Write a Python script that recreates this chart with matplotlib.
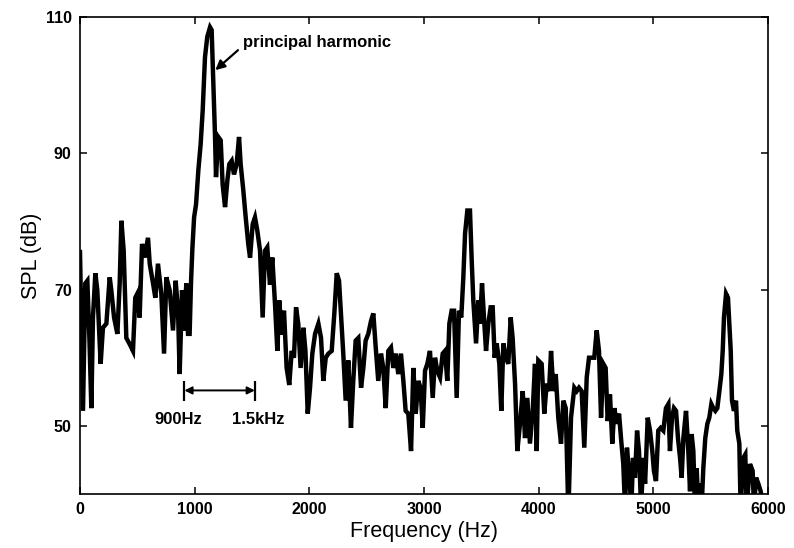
"""Sound pressure level spectrum with the principal harmonic and its band marked.

Renders a single black trace on a white boxed axes and saves it as out.png.
"""
import matplotlib
matplotlib.use("Agg")
import matplotlib.pyplot as plt

plt.rcParams["font.family"] = ["Liberation Sans", "DejaVu Sans"]

# spectrum samples: frequency (Hz) and level (dB)
freq_hz = [
    0, 26, 46, 64, 82, 99, 113, 134, 151, 180, 200, 230, 259, 273, 297, 326,
    346, 361, 381, 404, 433, 462, 482, 500, 520, 541, 564, 593, 608, 637, 657,
    680, 709, 733, 753, 782, 811, 834, 855, 869, 890, 907, 927, 942, 956, 968,
    980, 995, 1012, 1032, 1052, 1070, 1090, 1110, 1134, 1148, 1163, 1177, 1186,
    1206, 1227, 1244, 1265, 1285, 1302, 1323, 1343, 1366, 1387, 1401, 1424,
    1445, 1468, 1483, 1506, 1526, 1546, 1570, 1593, 1613, 1633, 1657, 1677,
    1701, 1721, 1738, 1759, 1779, 1802, 1825, 1846, 1866, 1884, 1904, 1924,
    1948, 1966, 1986, 2006, 2026, 2050, 2079, 2102, 2122, 2143, 2166, 2195,
    2218, 2239, 2259, 2276, 2296, 2317, 2340, 2363, 2383, 2404, 2427, 2451,
    2471, 2491, 2514, 2538, 2558, 2579, 2601, 2625, 2645, 2666, 2689, 2712,
    2732, 2753, 2776, 2799, 2820, 2840, 2863, 2887, 2907, 2928, 2950, 2970,
    2989, 3009, 3029, 3052, 3076, 3096, 3116, 3140, 3163, 3183, 3203, 3221,
    3241, 3262, 3285, 3305, 3325, 3343, 3358, 3378, 3401, 3416, 3430, 3454,
    3474, 3488, 3506, 3523, 3541, 3561, 3581, 3599, 3616, 3634, 3657, 3674,
    3692, 3715, 3735, 3756, 3773, 3794, 3814, 3837, 3861, 3881, 3901, 3924,
    3948, 3968, 3983, 3997, 4026, 4049, 4070, 4090, 4108, 4128, 4149, 4171,
    4195, 4215, 4236, 4259, 4282, 4311, 4332, 4352, 4375, 4398, 4419, 4439,
    4462, 4485, 4506, 4526, 4544, 4564, 4584, 4602, 4622, 4642, 4660, 4681,
    4701, 4718, 4738, 4753, 4770, 4788, 4808, 4823, 4840, 4858, 4875, 4893,
    4913, 4928, 4951, 4971, 4991, 5005, 5023, 5043, 5064, 5087, 5110, 5131,
    5145, 5163, 5180, 5198, 5215, 5233, 5247, 5262, 5285, 5305, 5320, 5334,
    5349, 5363, 5378, 5392, 5407, 5421, 5436, 5453, 5471, 5488, 5506, 5523,
    5541, 5558, 5576, 5593, 5605, 5616, 5634, 5651, 5663, 5675, 5686, 5703,
    5721, 5732, 5750, 5761, 5785, 5802, 5814, 5843, 5866, 5878, 5896, 5916,
    5936, 5959, 5990,
]
spl_db = [
    75.5, 52.2, 70.9, 71.3, 62.9, 52.6, 65.9, 72.4, 69.9, 59.1, 64.4, 65.0,
    71.8, 69.9, 65.9, 63.5, 70.9, 80.1, 75.7, 62.9, 62.0, 61.0, 68.8, 69.4,
    65.9, 76.7, 74.7, 77.6, 73.8, 70.9, 68.8, 73.8, 69.4, 60.6, 71.8, 69.9,
    64.0, 71.3, 66.9, 57.6, 69.9, 64.0, 70.9, 63.5, 63.5, 71.0, 76.0, 80.6,
    82.5, 87.5, 91.3, 96.3, 104.1, 107.1, 108.5, 108.1, 100.1, 92.8, 86.5,
    92.4, 91.9, 85.4, 82.1, 86.0, 88.4, 88.9, 86.9, 88.4, 92.4, 88.4, 84.6,
    80.6, 76.6, 74.7, 79.6, 80.6, 78.7, 75.7, 65.9, 75.7, 76.2, 70.7, 74.7,
    67.8, 61.0, 68.4, 63.4, 66.9, 58.5, 56.0, 61.0, 60.0, 67.4, 64.9, 58.5,
    64.4, 61.0, 51.8, 55.6, 60.6, 63.5, 65.0, 62.9, 56.6, 60.0, 60.6, 61.0,
    66.5, 72.4, 71.3, 66.5, 60.6, 53.7, 59.6, 49.7, 56.6, 62.5, 62.9, 55.6,
    58.5, 62.5, 63.5, 65.4, 66.5, 61.5, 56.6, 60.6, 58.5, 52.6, 61.0, 61.5,
    58.5, 60.6, 57.6, 60.6, 56.6, 52.2, 51.8, 46.3, 58.5, 51.8, 56.6, 55.6,
    49.7, 58.1, 59.1, 61.0, 54.1, 60.0, 58.1, 57.1, 60.6, 61.0, 56.6, 65.0,
    66.9, 66.9, 54.1, 66.9, 65.9, 71.8, 78.2, 81.6, 81.6, 74.3, 68.4, 62.1,
    68.4, 65.0, 70.9, 65.9, 61.0, 65.0, 67.4, 67.4, 60.0, 62.1, 59.1, 52.2,
    62.1, 60.0, 59.1, 65.9, 62.9, 56.2, 46.3, 50.3, 55.1, 48.2, 54.1, 47.4,
    52.2, 59.1, 46.3, 59.6, 59.1, 51.8, 56.2, 55.1, 61.0, 55.1, 57.6, 51.2,
    47.4, 53.7, 52.6, 37.0, 51.2, 55.6, 55.1, 55.6, 55.1, 46.8, 57.1, 60.0,
    60.0, 60.0, 64.0, 61.0, 51.2, 59.1, 58.5, 50.7, 54.6, 47.4, 52.6, 50.3,
    51.8, 48.2, 44.4, 38.0, 46.8, 43.4, 38.0, 45.3, 42.4, 49.3, 46.3, 38.0,
    45.3, 41.5, 51.2, 49.3, 46.3, 43.4, 41.9, 49.3, 49.7, 49.3, 52.6, 53.2,
    46.3, 51.2, 52.6, 52.2, 48.2, 45.3, 42.4, 48.2, 52.2, 46.3, 40.4, 48.8,
    46.3, 38.0, 43.8, 38.0, 41.5, 38.0, 43.8, 48.2, 50.3, 51.2, 53.2, 52.6,
    52.2, 52.6, 55.1, 57.6, 61.0, 65.9, 69.4, 68.8, 65.0, 61.0, 53.7, 52.2,
    53.7, 49.3, 47.4, 38.0, 45.3, 45.8, 38.0, 44.4, 43.4, 38.0, 42.4, 41.5,
    40.4, 38.0, 37.5,
]

x_ticks = [0, 1000, 2000, 3000, 4000, 5000, 6000]
y_ticks = [50, 70, 90, 110]

peak_point = (1180, 102.2)
peak_label = "principal harmonic"
band_edges = (910, 1525)
band_labels = ["900Hz", "1.5kHz"]


def render_chart(save_path="out.png"):
    fig = plt.figure(figsize=(7.94, 5.48), dpi=100)
    ax = fig.add_axes([80 / 794, 54 / 548, 688 / 794, 477 / 548])

    ax.plot(freq_hz, spl_db, color="black", linewidth=3.2, solid_joinstyle="miter")

    ax.set_xlim(0, 6000)
    ax.set_ylim(40, 110)
    ax.set_xticks(x_ticks)
    ax.set_yticks(y_ticks)
    ax.tick_params(direction="in", top=True, right=True, length=5, width=1.1,
                   labelsize=11.5, pad=6)
    for lbl in ax.get_xticklabels() + ax.get_yticklabels():
        lbl.set_fontweight("bold")
    for spine in ax.spines.values():
        spine.set_linewidth(1.2)

    ax.set_xlabel("Frequency (Hz)", fontsize=15.5, labelpad=3)
    ax.set_ylabel("SPL (dB)", fontsize=15.5, labelpad=3)

    # arrow to the main peak
    ax.annotate(peak_label, xy=peak_point, xytext=(1420, 106.2),
                ha="left", va="center", fontsize=12, fontweight="bold",
                arrowprops=dict(arrowstyle="-|>", color="black", lw=1.6,
                                mutation_scale=14, shrinkA=2, shrinkB=0,
                                relpos=(0, 0.3)))

    # bandwidth bracket under the peak
    lo, hi = band_edges
    ax.vlines([lo, hi], 53.7, 56.6, color="black", linewidth=1.6)
    ax.annotate("", xy=(lo, 55.2), xytext=(hi, 55.2),
                arrowprops=dict(arrowstyle="<|-|>", color="black", lw=1.4,
                                mutation_scale=11, shrinkA=0, shrinkB=0))
    ax.text(855, 50.9, band_labels[0], ha="center", va="center",
            fontsize=12, fontweight="bold")
    ax.text(1552, 50.9, band_labels[1], ha="center", va="center",
            fontsize=12, fontweight="bold")

    fig.savefig(save_path, dpi=100)


def main():
    render_chart("out.png")


if __name__ == "__main__":
    main()
